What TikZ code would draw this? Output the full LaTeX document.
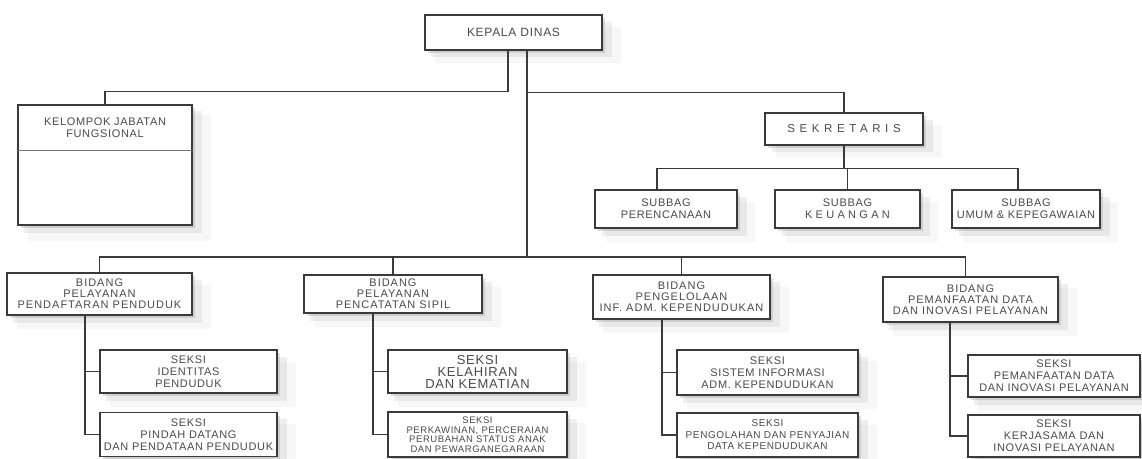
\documentclass[tikz,border=0pt]{standalone}
\usepackage{fontspec}
\setmainfont{Liberation Sans}[LetterSpace=6]
\usetikzlibrary{shadows}
\definecolor{ink}{HTML}{3A3A3A}
\definecolor{txt}{HTML}{4A4A4A}
\newcommand\sprd[2]{{\addfontfeature{LetterSpace=#1}#2}}
\tikzset{
  box/.style={draw=ink, line width=1.3pt, fill=white, align=center, text=txt, inner sep=1pt,
    font=\fontsize{11}{12}\selectfont,
    drop shadow={shadow xshift=14pt, shadow yshift=-12pt, shadow scale=1.05, opacity=.06, fill=black!50},
    drop shadow={shadow xshift=8pt, shadow yshift=-7pt, shadow scale=1.02, opacity=.12, fill=black!50},
    drop shadow={shadow xshift=3pt, shadow yshift=-3pt, opacity=.25, fill=black!50}},
  bidang/.style={box, font=\fontsize{11}{11}\selectfont\addfontfeature{LetterSpace=9}},
  wh/.style 2 args={minimum width=#1pt, minimum height=#2pt},
  link/.style={draw=ink, line width=1.2pt}
}
\begin{document}
\begin{tikzpicture}[x=1pt, y=-1pt]
\fill[white] (0,0) rectangle (1142,458);
\useasboundingbox (0,0) rectangle (1142,458);
\node[box, wh={177}{35}, font=\fontsize{12}{12}\selectfont] (kepala) at (513.5,32.5) {KEPALA DINAS};
\node[box, wh={174}{120}] (jafung) at (105,165) {};
\node[text=txt, align=center, font=\fontsize{11}{12}\selectfont] (jafungtxt) at (105,128) {KELOMPOK JABATAN\\FUNGSIONAL};
\draw[draw=ink!70, line width=.6pt] ([yshift=-46pt]jafung.north west) -- ([yshift=-46pt]jafung.north east);
\node[box, wh={158}{32}, font=\fontsize{11.5}{12}\selectfont] (sekr) at (844,129) {\sprd{40}{SEKRETARIS}};
\node[box, wh={142}{38}] (sb1) at (666,209) {SUBBAG\\PERENCANAAN};
\node[box, wh={145}{38}] (sb2) at (847.5,209) {SUBBAG\\\sprd{30}{KEUANGAN}};
\node[box, wh={148}{38}] (sb3) at (1026,209) {SUBBAG\\UMUM \& KEPEGAWAIAN};
\node[bidang, wh={185}{42}] (bd1) at (99.5,294) {BIDANG\\PELAYANAN\\PENDAFTARAN PENDUDUK};
\node[bidang, wh={178}{38}] (bd2) at (393,294) {BIDANG\\PELAYANAN\\PENCATATAN SIPIL};
\node[bidang, wh={177}{44}] (bd3) at (681.5,297) {BIDANG\\PENGELOLAAN\\INF. ADM. KEPENDUDUKAN};
\node[bidang, wh={175}{45}] (bd4) at (970.5,299.5) {BIDANG\\PEMANFAATAN DATA\\DAN INOVASI PELAYANAN};
\node[box, wh={177}{43}] (s11) at (188.5,371.5) {SEKSI\\IDENTITAS\\PENDUDUK};
\node[box, wh={177}{44}] (s12) at (188.5,434.5) {SEKSI\\PINDAH DATANG\\DAN PENDATAAN PENDUDUK};
\node[box, wh={179}{43}, font=\fontsize{13}{12}\selectfont] (s21) at (477.5,371.5) {SEKSI\\KELAHIRAN\\DAN KEMATIAN};
\node[box, wh={179}{45}, font=\fontsize{9.5}{9.5}\selectfont] (s22) at (477.5,434.5) {SEKSI\\PERKAWINAN, PERCERAIAN\\PERUBAHAN STATUS ANAK\\DAN PEWARGANEGARAAN};
\node[box, wh={181}{45}] (s31) at (767.5,372.5) {SEKSI\\SISTEM INFORMASI\\ADM. KEPENDUDUKAN};
\node[box, wh={181}{44}, font=\fontsize{10}{11.5}\selectfont] (s32) at (767.5,435) {SEKSI\\PENGOLAHAN DAN PENYAJIAN\\DATA KEPENDUDUKAN};
\node[box, wh={172}{42}] (s41) at (1054,376) {SEKSI\\PEMANFAATAN DATA\\DAN INOVASI PELAYANAN};
\node[box, wh={172}{42}] (s42) at (1054,436) {SEKSI\\KERJASAMA DAN\\INOVASI PELAYANAN};
\coordinate (kl) at ([xshift=-5.5pt]kepala.south);
\coordinate (kr) at ([xshift=13.5pt]kepala.south);
\coordinate (bus) at (527,257);
\coordinate (sj) at ([yshift=-23pt]sekr.south);
\draw[link] (kl) -- ++(0,41) -| (jafung.north);
\draw[link] (kr) -- ++(0,42) -| (sekr.north);
\draw[link] (kr) -- (bus);
\draw[link] (bus) -| (bd1.north);
\draw[link] (bus) -| (bd2.north);
\draw[link] (bus) -| (bd3.north);
\draw[link] (bus) -| ([xshift=-5pt]bd4.north);
\draw[link] (sekr.south) -- (sj);
\draw[link] (sj) -| ([xshift=-9pt]sb1.north);
\draw[link] (sj) -| (sb2.north);
\draw[link] (sj) -| ([xshift=-8pt]sb3.north);
\coordinate (t1) at ([xshift=-14.5pt]bd1.south);
\coordinate (t2) at ([xshift=-20pt]bd2.south);
\coordinate (t3) at ([xshift=-19.5pt]bd3.south);
\coordinate (t4) at ([xshift=-20.5pt]bd4.south);
\draw[link] (t1) |- (s11.west);
\draw[link] (t1) |- (s12.west);
\draw[link] (t2) |- (s21.west);
\draw[link] (t2) |- (s22.west);
\draw[link] (t3) |- (s31.west);
\draw[link] (t3) |- (s32.west);
\draw[link] (t4) |- (s41.west);
\draw[link] (t4) |- (s42.west);
\end{tikzpicture}
\end{document}
